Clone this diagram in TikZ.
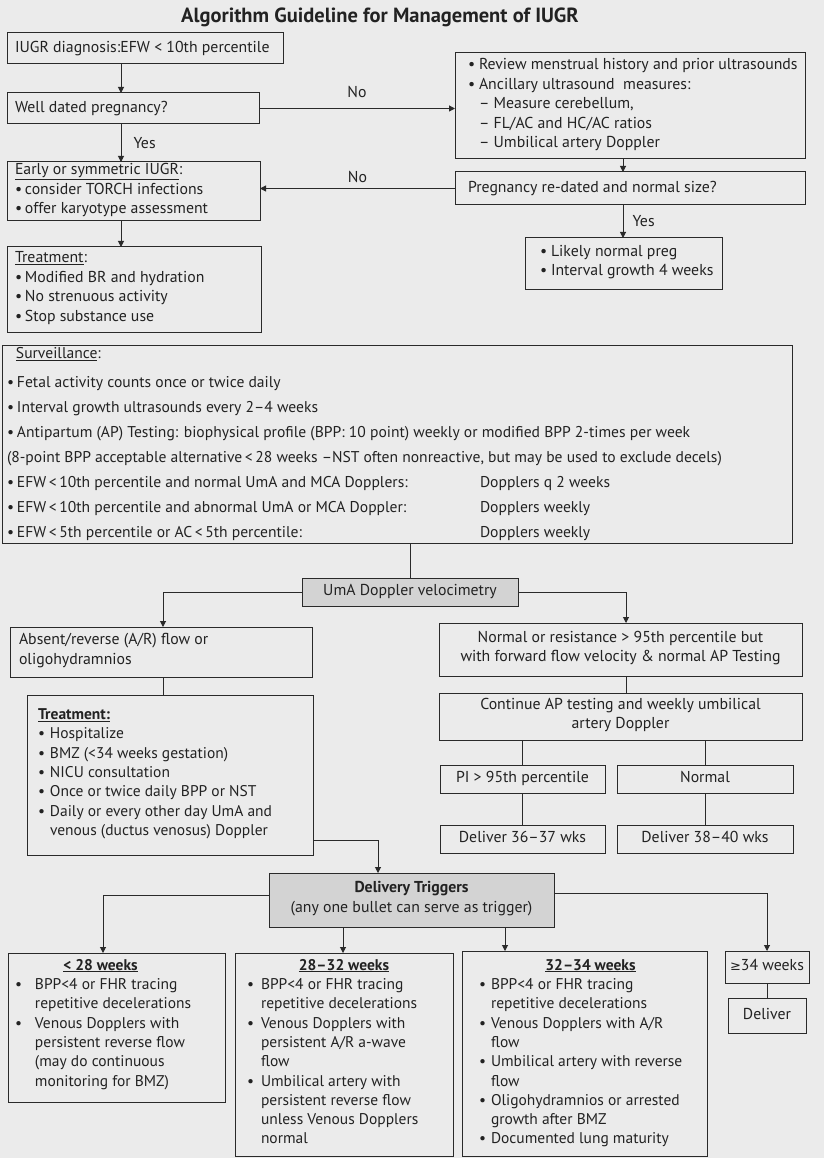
\documentclass[tikz,border=0pt]{standalone}
\usepackage{fontspec}
\setmainfont{PT Sans}
\newfontfamily\symfont{DejaVu Sans}
\usetikzlibrary{arrows.meta}

\definecolor{pagebg}{HTML}{EBEBEB}
\definecolor{ink}{HTML}{222222}
\definecolor{linec}{HTML}{2A2A2A}
\definecolor{shade}{HTML}{D3D3D3}

\newcommand\mainsz{\fontsize{15.8}{19.6}\selectfont}
\newcommand\survsz{\fontsize{15.6}{25}\selectfont}
\newcommand\lowsz{\fontsize{15.5}{19.3}\selectfont}
\newcommand\bmark[1][11]{\makebox[#1pt][l]{•}}
\newcommand\bgap[1][11]{\hspace*{#1pt}}

% frame node given by its corners (x1,y1) and (x2,y2)
\newcommand\placeframe[6]{%
  \pgfmathsetmacro\fw{#4-#2}\pgfmathsetmacro\fh{#5-#3}%
  \node[frame,minimum width=\fw pt,minimum height=\fh pt,#6] (#1) at (#2,#3) {};}

\tikzset{
  frame/.style={draw=linec,line width=1pt,anchor=north west,inner sep=0pt,outer sep=0pt},
  shaded/.style={fill=shade},
  txt/.style={inner sep=0pt,outer sep=0pt,text=ink,font=\mainsz,align=left,
    execute at begin node=\strut,execute at end node=\strut},
  ctxt/.style={txt,align=center},
  lowtxt/.style={txt,font=\lowsz},
  headtxt/.style={inner sep=0pt,outer sep=0pt,text=ink,font=\bfseries\lowsz},
  lbl/.style={inner sep=0pt,text=ink,font=\mainsz},
  ln/.style={draw=linec,line width=1pt},
  arr/.style={ln,-{Triangle[length=6pt,width=6pt]}},
}

\begin{document}
\begin{tikzpicture}[x=1pt,y=-1pt]
\path[use as bounding box,fill=pagebg] (0,0) rectangle (824,1158);

\node[inner sep=0pt,text=ink,font=\bfseries\fontsize{20.5}{24}\selectfont,anchor=base]
  (title) at (380,23) {Algorithm Guideline for Management of IUGR};

% ---------- dating and first workup ----------
\placeframe{diag}{7}{33}{283}{64}{}
\node[txt,anchor=west] (diag-t) at ([xshift=8pt]diag.west) {IUGR diagnosis:EFW < 10th percentile};

\placeframe{wd}{7}{93}{259}{124}{}
\node[txt,anchor=west] (wd-t) at ([xshift=8pt]wd.west) {Well dated pregnancy?};

\placeframe{review}{455}{53}{805}{159}{}
\node[txt,anchor=west] (review-t) at ([xshift=13pt]review.west) {%
\bmark Review menstrual history and prior ultrasounds\\
\bmark Ancillary ultrasound~ measures:\\
\bgap – Measure cerebellum,\\
\bgap – FL/AC and HC/AC ratios\\
\bgap – Umbilical artery Doppler};

\placeframe{redate}{455}{172}{805}{205}{}
\node[txt,anchor=west] (redate-t) at ([xshift=13pt]redate.west) {Pregnancy re-dated and normal size?};

\placeframe{likely}{525}{238}{722}{289}{}
\node[txt,anchor=west] (likely-t) at ([xshift=15pt]likely.west) {%
\bmark Likely normal preg\\
\bmark Interval growth 4 weeks};

\placeframe{early}{7}{162}{260}{221}{}
\node[txt,anchor=west] (early-t) at ([xshift=8pt]early.west) {%
\underline{Early or symmetric IUGR}:\\
\bmark[10]consider TORCH infections\\
\bmark[10]offer karyotype assessment};

\placeframe{treat1}{7}{247}{261}{332}{}
\node[txt,anchor=west] (treat1-t) at ([xshift=8pt]treat1.west) {%
\underline{Treatment}:\\
\bmark[10]Modified BR and hydration\\
\bmark[10]No strenuous activity\\
\bmark[10]Stop substance use};

% ---------- surveillance ----------
\placeframe{surv}{2}{345}{792}{543}{}
\node[txt,font=\survsz,anchor=west] (surv-t) at ([shift={(5,2)}]surv.west) {%
\hspace*{9pt}\underline{Surveillance}:\\[4pt]
\bmark[10]Fetal activity counts once or twice daily\\
\bmark[10]Interval growth ultrasounds every 2–4 weeks\\
\bmark[10]Antipartum (AP) Testing: biophysical profile (BPP: 10 point) weekly or modified BPP 2-times per week\\
(8-point BPP acceptable alternative\,<\,28 weeks –NST often nonreactive, but may be used to exclude decels)\\
\makebox[473pt][l]{\bmark[10]EFW\,<\,10th percentile and normal UmA and MCA Dopplers:}Dopplers q 2 weeks\\
\makebox[473pt][l]{\bmark[10]EFW\,<\,10th percentile and abnormal UmA or MCA Doppler:}Dopplers weekly\\
\makebox[473pt][l]{\bmark[10]EFW\,<\,5th percentile or AC\,<\,5th percentile:}Dopplers weekly};

\placeframe{uma}{302}{578}{518}{606}{shaded}
\node[ctxt] (uma-t) at (uma.center) {UmA Doppler velocimetry};

% ---------- abnormal Doppler branch ----------
\placeframe{absent}{10}{627}{312}{677}{}
\node[txt,anchor=west] (absent-t) at ([xshift=9pt]absent.west) {%
Absent/reverse (A/R) flow or\\oligohydramnios};

\placeframe{treat2}{27}{695}{313}{855}{}
\node[lowtxt,anchor=west] (treat2-t) at ([xshift=11pt]treat2.west) {%
\underline{\textbf{Treatment:}}\\
\bmark[12]Hospitalize\\
\bmark[12]BMZ (<34 weeks gestation)\\
\bmark[12]NICU consultation\\
\bmark[12]Once or twice daily BPP or NST\\
\bmark[12]Daily or every other day UmA and\\
\bgap[12]venous (ductus venosus) Doppler};

% ---------- normal / raised resistance branch ----------
\placeframe{normres}{439}{623}{802}{676}{}
\node[ctxt] (normres-t) at (normres.center) {%
Normal or resistance > 95th percentile but\\with forward flow velocity \& normal AP Testing};

\placeframe{cont}{439}{693}{802}{740}{}
\node[ctxt] (cont-t) at (cont.center) {%
Continue AP testing and weekly umbilical\\artery Doppler};

\placeframe{pi}{440}{765}{605}{793}{}
\node[ctxt] (pi-t) at (pi.center) {PI > 95th percentile};
\placeframe{normal}{617}{765}{793}{793}{}
\node[ctxt] (normal-t) at (normal.center) {Normal};

\placeframe{d3637}{440}{825}{605}{853}{}
\node[ctxt] (d3637-t) at (d3637.center) {Deliver 36–37 wks};
\placeframe{d3840}{617}{825}{793}{853}{}
\node[ctxt] (d3840-t) at (d3840.center) {Deliver 38–40 wks};

% ---------- delivery triggers ----------
\placeframe{dt}{269}{873}{554}{927}{shaded}
\node[ctxt] (dt-t) at (dt.center) {\textbf{Delivery Triggers}\\(any one bullet can serve as trigger)};

\placeframe{w28}{8}{953}{225}{1102}{}
\node[headtxt,anchor=base] (w28-h) at ([shift={(-16,17)}]w28.north) {\underline{< 28 weeks}};
\node[lowtxt,anchor=north west] (w28-t) at ([shift={(7,25.5)}]w28.north west) {%
\bmark[20]BPP<4 or FHR tracing\\
\bgap[20]repetitive decelerations\\
\bmark[20]Venous Dopplers with\\
\bgap[20]persistent reverse flow\\
\bgap[20](may do continuous\\
\bgap[20]monitoring for BMZ)};

\placeframe{w2832}{235}{953}{453}{1156}{}
\node[headtxt,anchor=base] (w2832-h) at ([shift={(0,17)}]w2832.north) {\underline{28–32 weeks}};
\node[lowtxt,anchor=north west] (w2832-t) at ([shift={(12,25.5)}]w2832.north west) {%
\bmark[14]BPP<4 or FHR tracing\\
\bgap[14]repetitive decelerations\\
\bmark[14]Venous Dopplers with\\
\bgap[14]persistent A/R a-wave\\
\bgap[14]flow\\
\bmark[14]Umbilical artery with\\
\bgap[14]persistent reverse flow\\
\bgap[14]unless Venous Dopplers\\
\bgap[14]normal};

\placeframe{w3234}{462}{951}{707}{1156}{}
\node[headtxt,anchor=base] (w3234-h) at ([shift={(6,19)}]w3234.north) {\underline{32–34 weeks}};
\node[lowtxt,anchor=north west] (w3234-t) at ([shift={(17,27.5)}]w3234.north west) {%
\bmark[12]BPP<4 or FHR tracing\\
\bgap[12]repetitive decelerations\\
\bmark[12]Venous Dopplers with A/R\\
\bgap[12]flow\\
\bmark[12]Umbilical artery with reverse\\
\bgap[12]flow\\
\bmark[12]Oligohydramnios or arrested\\
\bgap[12]growth after BMZ\\
\bmark[12]Documented lung maturity};

\placeframe{w34}{725}{951}{809}{983}{}
\node[ctxt] (w34-t) at (w34.center) {{\symfont\fontsize{13}{15}\selectfont ≥}34 weeks};
\placeframe{deliver}{728}{998}{806}{1033}{}
\node[ctxt] (deliver-t) at (deliver.center) {Deliver};

% ---------- connectors ----------
\coordinate (xa) at (121,0);
\coordinate (xb) at (623,0);
\coordinate (xc) at (163,0);
\coordinate (xd) at (626,0);
\coordinate (xe) at (378,0);
\coordinate (xf) at (103,0);
\coordinate (xg) at (343,0);
\coordinate (xh) at (505,0);

\draw[arr] (diag.south -| xa) -- (wd.north -| xa);
\draw[arr] (wd.east) -- node[lbl,above=10pt] {No} (wd.east -| review.west);
\draw[arr] (wd.south -| xa) -- node[lbl,right=12pt] {Yes} (early.north -| xa);
\draw[arr] (review.south -| xb) -- (redate.north -| xb);
\draw[arr] (redate.west) -- node[lbl,above=5pt] {No} (redate.west -| early.east);
\draw[arr] (redate.south -| xb) -- node[lbl,right=9pt] {Yes} (likely.north -| xb);
\draw[arr] (early.south -| xa) -- (treat1.north -| xa);

\draw[ln] (surv.south -| uma.north) -- (uma.north);
\draw[arr] (uma.west) -| (absent.north -| xc);
\draw[arr] (uma.east) -| (normres.north -| xd);
\draw[ln] (absent.south -| xc) -- (treat2.north -| xc);
\draw[ln] (normres.south -| xd) -- (cont.north -| xd);
\draw[ln] (cont.south -| pi.north) -- (pi.north);
\draw[ln] (cont.south -| normal.north) -- (normal.north);
\draw[ln] (pi.south) -- (d3637.north);
\draw[ln] (normal.south) -- (d3840.north);

\draw[arr] ([yshift=15pt]treat2.south east) -| (dt.north -| xe);
\draw[arr] ([yshift=5pt]dt.west) -| (w28.north -| xf);
\draw[arr] (dt.south -| xg) -- (w2832.north -| xg);
\draw[arr] (dt.south -| xh) -- (w3234.north -| xh);
\draw[arr] ([yshift=7pt]dt.east) -| (w34.north);
\draw[ln] (w34.south) -- (deliver.north);
\end{tikzpicture}
\end{document}
